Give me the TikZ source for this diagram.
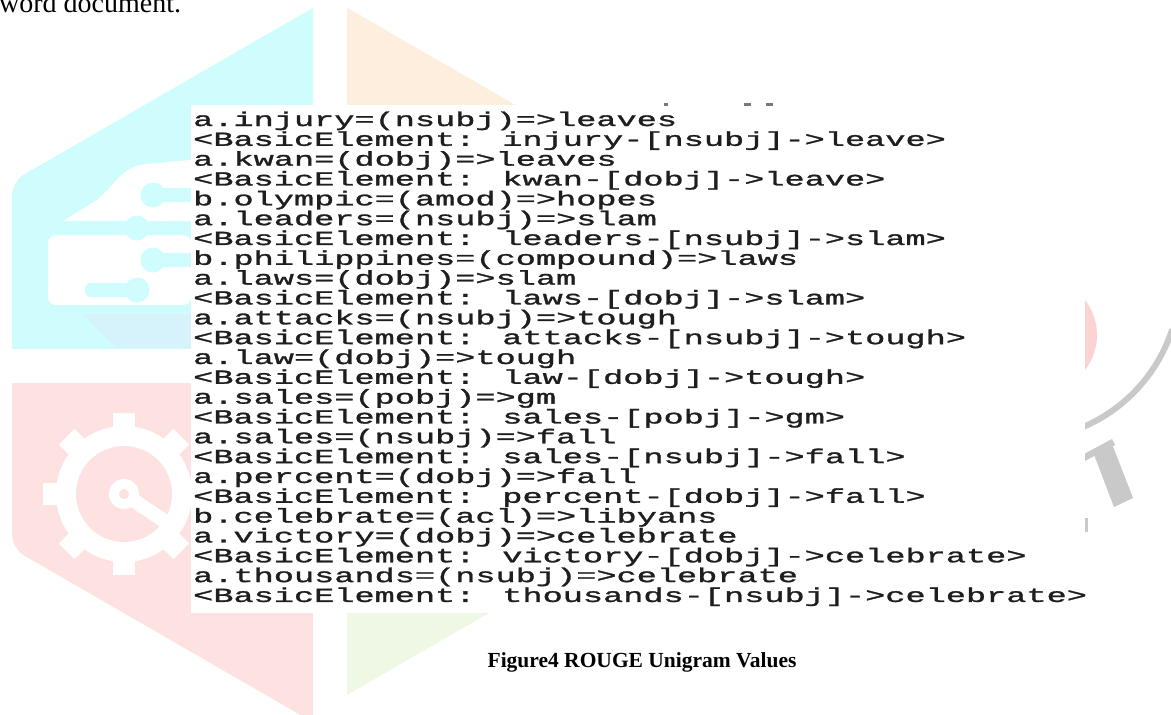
\documentclass[tikz,border=0pt]{standalone}
\usepackage{fontspec}
\setmainfont{Liberation Serif}
\newfontfamily\codefont{Liberation Mono}[FakeStretch=1.68, FakeBold=1.4]
\definecolor{wcyan}{HTML}{CFFDFE}
\definecolor{wcyansh}{HTML}{D6F2FB}
\definecolor{wpeach}{HTML}{FEEEDD}
\definecolor{wpink}{HTML}{FEE2E2}
\definecolor{wpinkarc}{HTML}{FCD3D3}
\definecolor{wgreen}{HTML}{EEF8E5}
\definecolor{wgrey}{HTML}{C9C9C9}
\definecolor{codeink}{HTML}{1E1E1E}
\newcommand\hexfill[1]{\fill[#1, rounded corners=14] (330,-2) -- (648,181.5) -- (648,548.5) -- (330,732) -- (12,548.5) -- (12,181.5) -- cycle;}
\begin{document}
\begin{tikzpicture}[x=1pt,y=-1pt,
  codeline/.style={anchor=base west, inner sep=0pt, font=\codefont\fontsize{20}{20}\selectfont, text=codeink},
  trace/.style={fill=wcyan}]
\useasboundingbox (0,0) rectangle (1171,715);
\fill[white] (0,0) rectangle (1171,715);
% ---- watermark hexagon quadrants
\begin{scope}\clip (0,-10) rectangle (313,348); \hexfill{wcyan}
  \fill[wcyansh] (83,314) -- (191,314) -- (191,348) -- (117,348) -- cycle;
  \fill[white, rounded corners=8] (48,235) -- (48,305) -- (191,305) -- (191,235) -- cycle;
  \fill[white] (63,221) -- (97,200) .. controls (115,185) and (120,168) .. (145,164) -- (191,160) -- (191,221) -- cycle;
  \fill[trace] (153,195) circle[radius=12.5]; \fill[trace] (153,188) rectangle (191,202);
  \fill[trace] (137,228) circle[radius=12.5]; \fill[trace] (48,221) rectangle (137,235);
  \fill[trace] (153,260) circle[radius=12.5]; \fill[trace] (153,253) rectangle (191,267);
  \fill[trace] (137,290) circle[radius=12.5]; \fill[trace, rounded corners=6] (85,283) rectangle (137,297);
\end{scope}
\begin{scope}\clip (347,-10) rectangle (700,348); \hexfill{wpeach} \end{scope}
\begin{scope}\clip (0,383) rectangle (313,740); \hexfill{wpink}
  \fill[white] (124,494) circle[radius=68];
  \foreach \a in {0,45,...,315}
    \fill[white, rotate around={\a:(124,494)}] (113,413) rectangle (135,432);
  \fill[wpink] (124,494) circle[radius=48];
  \draw[white, line width=14] (124,494) -- (172,526);
  \fill[white] (124,494) circle[radius=15];
  \fill[wpink] (124,494) circle[radius=5];
\end{scope}
\fill[wgreen] (347,383) -- (648,383) -- (648,521) -- (347,695) -- cycle;
% ---- right-hand watermark fragments
\begin{scope}\clip (1085,0) rectangle (1171,715);
  \fill[wpinkarc] (1040,335) circle[radius=57];
\end{scope}
\draw[wgrey, line width=6] (1020,280) ++(18:160) arc[start angle=18, end angle=67, radius=160];
\fill[wgrey] (1082,455) -- (1112,439) -- (1115,445) -- (1085,461) -- cycle;
\fill[wgrey] (1093,452) -- (1112,444) -- (1133,498) -- (1114,507) -- cycle;
\fill[wgrey] (1082,518) rectangle (1088,532);
% ---- pasted screenshot
\fill[white] (191,105) rectangle (1085,613);
\fill[codeink!60] (664,103) rectangle (668,106);
\fill[codeink!60] (744,103) rectangle (751,106);
\fill[codeink!60] (766,103) rectangle (773,106);
\node[codeline] (l1)  at (193,126.00) {a.injury=(nsubj)=>leaves};
\node[codeline] (l2)  at (193,145.83) {<BasicElement: injury-[nsubj]->leave>};
\node[codeline] (l3)  at (193,165.66) {a.kwan=(dobj)=>leaves};
\node[codeline] (l4)  at (193,185.49) {<BasicElement: kwan-[dobj]->leave>};
\node[codeline] (l5)  at (193,205.32) {b.olympic=(amod)=>hopes};
\node[codeline] (l6)  at (193,225.15) {a.leaders=(nsubj)=>slam};
\node[codeline] (l7)  at (193,244.98) {<BasicElement: leaders-[nsubj]->slam>};
\node[codeline] (l8)  at (193,264.81) {b.philippines=(compound)=>laws};
\node[codeline] (l9)  at (193,284.64) {a.laws=(dobj)=>slam};
\node[codeline] (l10) at (193,304.47) {<BasicElement: laws-[dobj]->slam>};
\node[codeline] (l11) at (193,324.30) {a.attacks=(nsubj)=>tough};
\node[codeline] (l12) at (193,344.13) {<BasicElement: attacks-[nsubj]->tough>};
\node[codeline] (l13) at (193,363.96) {a.law=(dobj)=>tough};
\node[codeline] (l14) at (193,383.79) {<BasicElement: law-[dobj]->tough>};
\node[codeline] (l15) at (193,403.62) {a.sales=(pobj)=>gm};
\node[codeline] (l16) at (193,423.45) {<BasicElement: sales-[pobj]->gm>};
\node[codeline] (l17) at (193,443.28) {a.sales=(nsubj)=>fall};
\node[codeline] (l18) at (193,463.11) {<BasicElement: sales-[nsubj]->fall>};
\node[codeline] (l19) at (193,482.94) {a.percent=(dobj)=>fall};
\node[codeline] (l20) at (193,502.77) {<BasicElement: percent-[dobj]->fall>};
\node[codeline] (l21) at (193,522.60) {b.celebrate=(acl)=>libyans};
\node[codeline] (l22) at (193,542.43) {a.victory=(dobj)=>celebrate};
\node[codeline] (l23) at (193,562.26) {<BasicElement: victory-[dobj]->celebrate>};
\node[codeline] (l24) at (193,582.09) {a.thousands=(nsubj)=>celebrate};
\node[codeline] (l25) at (193,601.92) {<BasicElement: thousands-[nsubj]->celebrate>};
% ---- texts outside the screenshot
\node[anchor=base west, inner sep=0pt, font=\fontsize{28}{28}\selectfont] (wd) at (-1,12) {word document.};
\node[anchor=base, inner sep=0pt, font=\bfseries\fontsize{21.5}{22}\selectfont] (cap) at (642,667) {Figure4 ROUGE Unigram Values};
\end{tikzpicture}
\end{document}
